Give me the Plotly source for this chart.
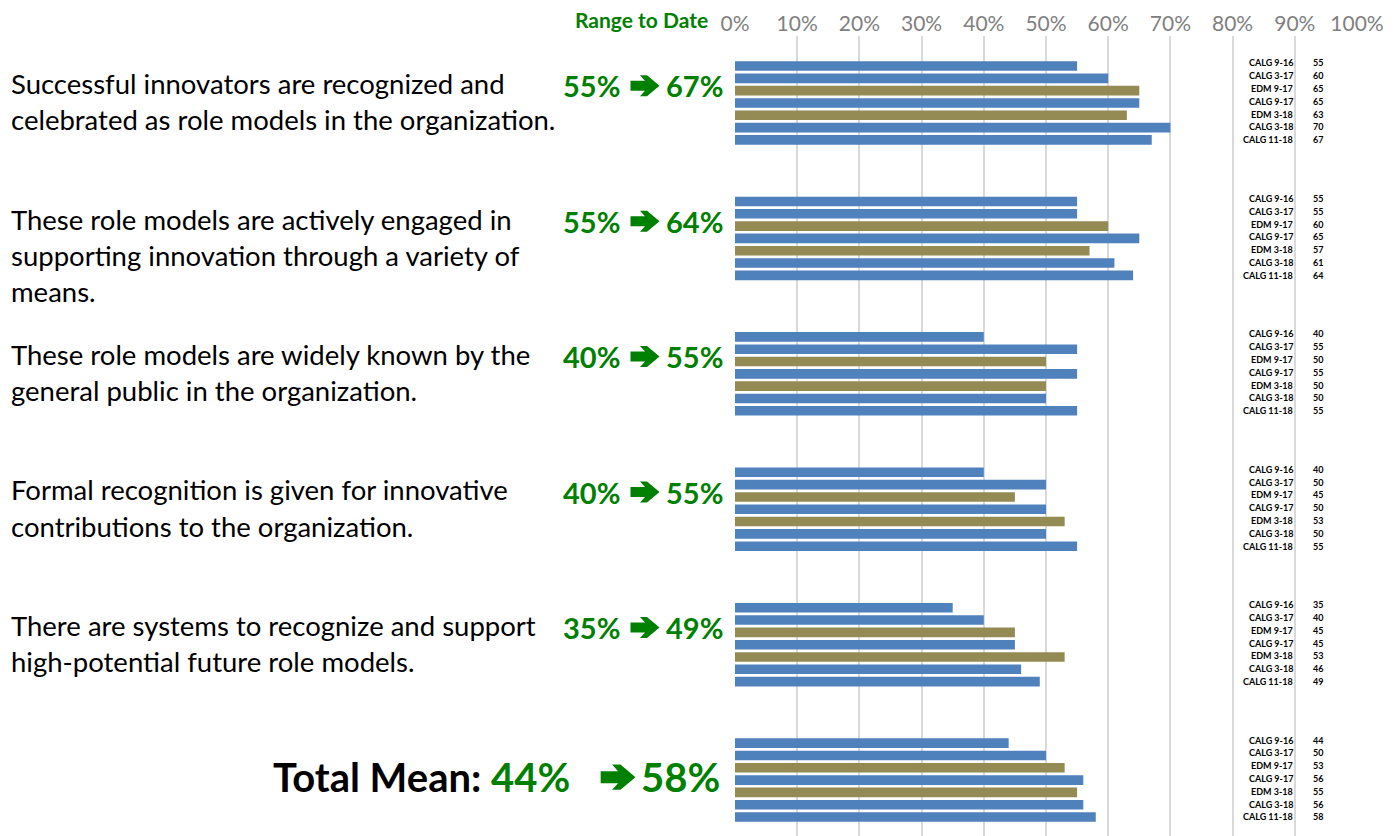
import plotly.graph_objects as go

series = ["CALG 9-16", "CALG 3-17", "EDM 9-17", "CALG 9-17", "EDM 3-18", "CALG 3-18", "CALG 11-18"]
series_colors = ["#4F81BD", "#4F81BD", "#948A54", "#4F81BD", "#948A54", "#4F81BD", "#4F81BD"]

questions = [
    ["Successful innovators are recognized and", "celebrated as role models in the organization."],
    ["These role models are actively engaged in", "supporting innovation through a variety of", "means."],
    ["These role models are widely known by the", "general public in the organization."],
    ["Formal recognition is given for innovative", "contributions to the organization."],
    ["There are systems to recognize and support", "high-potential future role models."],
]

q1 = [55, 60, 65, 65, 63, 70, 67]
q2 = [55, 55, 60, 65, 57, 61, 64]
q3 = [40, 55, 50, 55, 50, 50, 55]
q4 = [40, 50, 45, 50, 53, 50, 55]
q5 = [35, 40, 45, 45, 53, 46, 49]
total = [44, 50, 53, 56, 55, 56, 58]

groups = [q1, q2, q3, q4, q5, total]
tick_vals = [0, 0.1, 0.2, 0.3, 0.4, 0.5, 0.6, 0.7, 0.8, 0.9, 1.0]

GREEN = "#008000"
FONT = "Lato"
SLOT = 11  # slots per group (7 bars + gap)


def arrow_path(s):
    pts = [(-14.5, -5), (0, -5), (-5, -10.5), (2, -10.5), (14.5, 0),
           (2, 10.5), (-5, 10.5), (0, 5), (-14.5, 5)]
    return "M " + " L ".join(f"{x * s:.2f},{y * s:.2f}" for x, y in pts) + " Z"


def add_arrow(fig, xp, yv, s):
    fig.add_shape(type="path", xref="paper", yref="y", xsizemode="pixel", ysizemode="pixel",
                  xanchor=xp, yanchor=yv, path=arrow_path(s),
                  fillcolor=GREEN, line=dict(width=0), layer="above")


fig = go.Figure()
for i, name in enumerate(series):
    ys = [g * SLOT + i for g in range(len(groups))]
    xs = [groups[g][i] / 100 for g in range(len(groups))]
    fig.add_trace(go.Bar(
        x=xs, y=ys, orientation="h", name=name,
        marker=dict(color=series_colors[i], line=dict(width=0)),
        width=0.78, showlegend=False, hoverinfo="x+name",
    ))

ann = []
# question text lines + range to date values
for g, lines in enumerate(questions):
    for k, line in enumerate(lines):
        ann.append(dict(x=-1.168, y=g * SLOT + 1.43 + k * 2.93, xref="paper", yref="y",
                        text=line, showarrow=False, xanchor="left", yanchor="middle",
                        font=dict(family=FONT, size=27.5, color="#000000")))
    vals = groups[g]
    yy = g * SLOT + 1.6
    ann.append(dict(x=-0.1817, y=yy, xref="paper", yref="y",
                    text=f"<b>{vals[0]}%</b>", showarrow=False,
                    xanchor="right", yanchor="middle",
                    font=dict(family=FONT, size=29, color=GREEN)))
    add_arrow(fig, -0.1447, yy, 1.0)
    ann.append(dict(x=-0.0161, y=yy, xref="paper", yref="y",
                    text=f"<b>{vals[-1]}%</b>", showarrow=False,
                    xanchor="right", yanchor="middle",
                    font=dict(family=FONT, size=29, color=GREEN)))

# total mean
tv = groups[-1]
ty = 5 * SLOT + 2.76
ann.append(dict(x=-0.262, y=ty, xref="paper", yref="y",
                text=f"<b>Total Mean: <span style='color:{GREEN}'>{tv[0]}%</span></b>",
                showarrow=False, xanchor="right", yanchor="middle",
                font=dict(family=FONT, size=40, color="#000000")))
add_arrow(fig, -0.188, ty, 1.2)
ann.append(dict(x=-0.0209, y=ty, xref="paper", yref="y", text=f"<b>{tv[-1]}%</b>",
                showarrow=False, xanchor="right", yanchor="middle",
                font=dict(family=FONT, size=40, color=GREEN)))

# Range to Date header
ann.append(dict(x=-0.040, y=1.021, xref="paper", yref="paper", text="<b>Range to Date</b>",
                showarrow=False, xanchor="right", yanchor="middle",
                font=dict(family=FONT, size=21, color=GREEN)))

# side table labels
for g, vals in enumerate(groups):
    for i, name in enumerate(series):
        yy = g * SLOT + i - 0.25 + 0.04 * i
        ann.append(dict(x=0.9005, y=yy, xref="paper", yref="y", text=f"<b>{name}</b>",
                        showarrow=False, xanchor="right", yanchor="middle",
                        font=dict(family=FONT, size=9, color="#000000")))
        ann.append(dict(x=0.9365, y=yy, xref="paper", yref="y", text=f"<b>{vals[i]}</b>",
                        showarrow=False, xanchor="center", yanchor="middle",
                        font=dict(family=FONT, size=9, color="#000000")))

fig.update_layout(
    width=1392, height=828,
    margin=dict(l=727, r=43, t=28, b=0),
    paper_bgcolor="white", plot_bgcolor="white",
    barmode="overlay",
    annotations=ann,
    xaxis=dict(range=[0, 1.0], side="top", tickvals=tick_vals, tickformat=".0%",
               showgrid=True, gridcolor="#D9D9D9", gridwidth=1.5, zeroline=False,
               showline=False, ticks="", tickfont=dict(family=FONT, size=21, color="#808080")),
    yaxis=dict(range=[62.54, -2.44], showgrid=False, zeroline=False, showticklabels=False,
               showline=False, ticks=""),
)

fig.write_html("out.html")
